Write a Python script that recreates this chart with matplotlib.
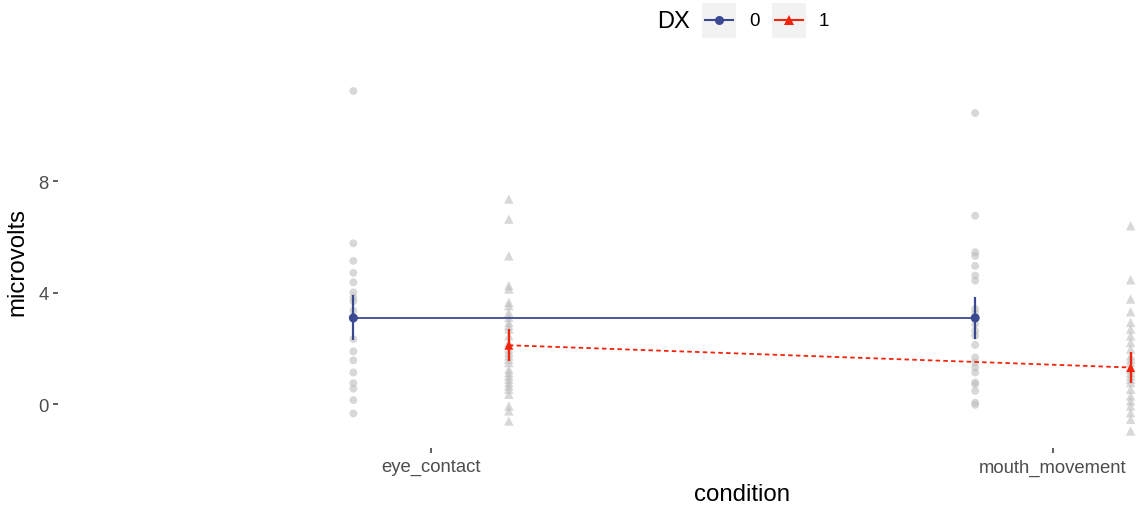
import numpy as np
import matplotlib.pyplot as plt
from matplotlib.patches import Rectangle
from matplotlib.lines import Line2D

plt.rcParams['font.family'] = ['Liberation Sans', 'DejaVu Sans']

conditions = ['eye_contact', 'mouth_movement']
groups = ['0', '1']

# individual subject values (microvolts)
eye_dx0 = [11.25, 5.78, 5.15, 4.72, 4.38, 4.02, 3.84, 3.70, 3.36, 2.34, 1.90,
           1.58, 1.14, 0.76, 0.56, 0.15, -0.33]
eye_dx1 = [7.37, 6.65, 5.33, 4.26, 4.14, 3.66, 3.54, 3.30, 3.12, 2.94, 2.82,
           2.70, 2.46, 2.22, 1.98, 1.86, 1.74, 1.62, 1.50, 1.26, 1.14, 1.02,
           0.90, 0.78, 0.66, 0.54, 0.36, -0.06, -0.24, -0.60]
mouth_dx0 = [10.46, 6.77, 5.46, 5.33, 4.97, 4.62, 4.44, 3.42, 3.27, 2.88,
             2.64, 2.46, 2.13, 1.68, 1.50, 1.32, 1.14, 0.78, 0.72, 0.48,
             0.06, -0.02]
mouth_dx1 = [6.41, 4.47, 3.78, 3.32, 2.94, 2.70, 2.46, 2.22, 1.98, 1.74,
             1.62, 1.50, 1.26, 1.14, 1.02, 0.90, 0.78, 0.54, 0.30, 0.12,
             -0.06, -0.30, -0.54, -0.96]

# group means and confidence limits
mean_dx0 = [3.10, 3.10]
lo_dx0 = [2.31, 2.34]
hi_dx0 = [3.92, 3.87]
mean_dx1 = [2.12, 1.32]
lo_dx1 = [1.56, 0.78]
hi_dx1 = [2.70, 1.86]

raw = {'0': [eye_dx0, mouth_dx0], '1': [eye_dx1, mouth_dx1]}
means = {'0': mean_dx0, '1': mean_dx1}
lows = {'0': lo_dx0, '1': lo_dx1}
highs = {'0': hi_dx0, '1': hi_dx1}
cols = {'0': '#3B4992', '1': '#F2250C'}
marks = {'0': 'o', '1': '^'}
styles = {'0': '-', '1': (0, (2.5, 1.8))}
offs = {'0': -0.125, '1': 0.125}

W, H = 1137, 510
fig = plt.figure(figsize=(W/100, H/100), dpi=100)
ax = fig.add_axes([58/W, 1-449/H, 1368/W, (449-75)/H])

xpos = np.arange(1, len(conditions)+1)
for g in groups:
    xs = xpos + offs[g]
    for x, vals in zip(xs, raw[g]):
        ax.scatter(np.full(len(vals), x), vals, s=32 if g == '0' else 46,
                   marker=marks[g], color='#bebebe', alpha=0.6,
                   edgecolors='none', zorder=1)
    ax.plot(xs, means[g], color=cols[g], ls=styles[g], lw=1.3, zorder=3)
    ax.vlines(xs, lows[g], highs[g], color=cols[g], lw=1.6, zorder=3)
    ax.scatter(xs, means[g], marker=marks[g], s=42, color=cols[g],
               edgecolors='none', zorder=4)

allv = np.concatenate([np.ravel(v) for g in groups for v in raw[g]])
rng = allv.max() - allv.min()
ax.set_ylim(allv.min() - 0.05*rng, allv.max() + 0.05*rng)
ax.set_xlim(0.4, 2.6)

for s in ax.spines.values():
    s.set_visible(False)
ax.set_yticks([0, 4, 8])
ax.set_xticks(xpos)
ax.set_xticklabels(conditions)
ax.tick_params(axis='both', length=3.5, width=1.1, color='#333333',
               labelcolor='#4d4d4d', labelsize=13.3)
ax.tick_params(axis='y', pad=3)
ax.tick_params(axis='x', pad=4)
ax.set_xlabel('condition', fontsize=17.3, color='black', labelpad=5)
ax.set_ylabel('microvolts', fontsize=17.3, color='black', labelpad=7)

# legend drawn at the top
tf = fig.transFigure
fig.text(657/W, 1-22/H, 'DX', fontsize=17, va='center', ha='left')
for g, x0, lx in [('0', 702, 749), ('1', 772, 819)]:
    fig.add_artist(Rectangle((x0/W, 1-39/H), 34/W, 35/H, transform=tf,
                             facecolor='#f2f2f2', edgecolor='none'))
    fig.add_artist(Line2D([(x0+3)/W, (x0+31)/W], [1-21/H, 1-21/H],
                          transform=tf, color=cols[g], lw=1.5))
    fig.add_artist(Line2D([(x0+17)/W], [1-21/H], transform=tf,
                          color=cols[g], marker=marks[g], ms=6.5, mew=0))
    fig.text(lx/W, 1-22/H, g, fontsize=13.5, va='center', ha='left')

plt.savefig('out.png', dpi=100)
